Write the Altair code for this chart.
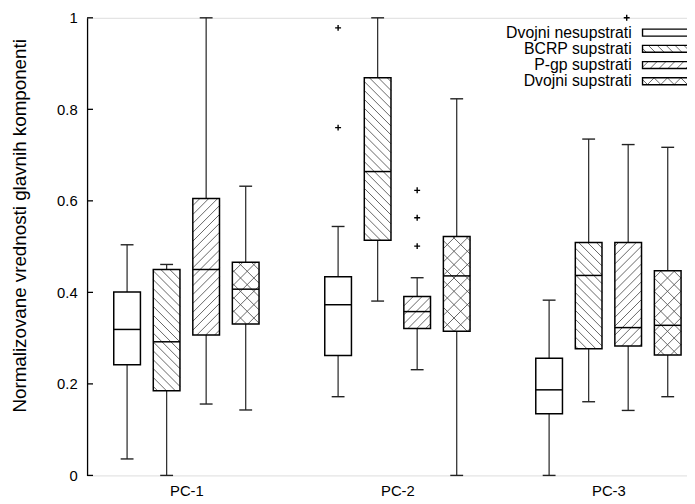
import altair as alt
import pandas as pd
import numpy as np

groups = ["PC-1", "PC-2", "PC-3"]
series = ["Dvojni nesupstrati", "BCRP supstrati", "P-gp supstrati", "Dvojni supstrati"]
patterns = ["none", "back", "fwd", "cross"]

# statistics, [group][series]
w_low = [[0.036, 0.000, 0.156, 0.143],
         [0.172, 0.381, 0.231, 0.000],
         [0.000, 0.161, 0.142, 0.172]]
q1 = [[0.242, 0.185, 0.307, 0.331],
      [0.262, 0.514, 0.321, 0.315],
      [0.135, 0.277, 0.283, 0.263]]
med = [[0.319, 0.292, 0.450, 0.407],
       [0.373, 0.664, 0.358, 0.436],
       [0.187, 0.437, 0.323, 0.328]]
q3 = [[0.401, 0.450, 0.605, 0.466],
      [0.434, 0.869, 0.391, 0.522],
      [0.256, 0.509, 0.509, 0.447]]
w_high = [[0.504, 0.461, 1.000, 0.632],
          [0.544, 1.000, 0.432, 0.823],
          [0.383, 0.735, 0.723, 0.717]]

out_group = [1, 1, 1, 1, 1]
out_series = [0, 0, 2, 2, 2]
out_value = [0.978, 0.760, 0.623, 0.563, 0.501]

y_ticks = [0, 0.2, 0.4, 0.6, 0.8, 1.0]
y_title = "Normalizovane vrednosti glavnih komponenti"

# ---- layout helpers (pixels -> data units) ----
W, H = 607, 463
KX = 213.5
XMIN = -0.4707
XMAX = XMIN + W / KX
OFF = 40 / KX
HALF = 13.5 / KX
CAP = 6.5 / KX


def px_x(p):
    return XMIN + p / KX


def px_y(p):
    return 1 - p / H


def hatch(x0, x1, y0, y1, kind, step):
    """segments in pixel space (y downward) clipped to rect"""
    segs = []
    kinds = ["fwd", "back"] if kind == "cross" else [kind]
    for k in kinds:
        if k == "fwd":  # y = c - x
            cmin, cmax = x0 + y0, x1 + y1
            c = np.ceil(cmin / step) * step
            while c < cmax:
                xa = max(x0, c - y1)
                xb = min(x1, c - y0)
                if xb - xa > 0.4:
                    segs.append((xa, c - xa, xb, c - xb))
                c += step
        elif k == "back":  # y = x + c
            cmin, cmax = y0 - x1, y1 - x0
            c = np.ceil(cmin / step) * step
            while c < cmax:
                xa = max(x0, y0 - c)
                xb = min(x1, y1 - c)
                if xb - xa > 0.4:
                    segs.append((xa, xa + c, xb, xb + c))
                c += step
    return segs


STEPS = {"back": 9.0, "fwd": 9.0, "cross": 13.5}

rows = []
hrows = []
for g in range(3):
    for s in range(4):
        xc = g + (s - 1.5) * OFF
        rows.append(dict(g=g, s=s, xc=xc, xl=xc - HALF, xr=xc + HALF,
                         cl=xc - CAP, cr=xc + CAP, lo=w_low[g][s], q1=q1[g][s],
                         med=med[g][s], q3=q3[g][s], hi=w_high[g][s]))
        kind = patterns[s]
        if kind != "none":
            X0 = (xc - HALF - XMIN) * KX
            X1 = (xc + HALF - XMIN) * KX
            Y0 = (1 - q3[g][s]) * H
            Y1 = (1 - q1[g][s]) * H
            for a, b, c, d in hatch(X0, X1, Y0, Y1, kind, STEPS[kind]):
                hrows.append(dict(x=px_x(a), y=px_y(b), x2=px_x(c), y2=px_y(d)))

box = pd.DataFrame(rows)
hat = pd.DataFrame(hrows)
outl = pd.DataFrame(dict(x=[g + (s - 1.5) * OFF for g, s in zip(out_group, out_series)],
                         v=out_value))

# legend (pixel positions relative to plot origin)
LEG_TX = 551
LEG_Y0 = 15
LEG_DY = 16.4
LEG_BX0, LEG_BX1 = 562, 640
LEG_BH = 3.5
lrows, lhat = [], []
for i, name in enumerate(series):
    yc = LEG_Y0 + LEG_DY * i
    lrows.append(dict(tx=px_x(LEG_TX), ty=px_y(yc), label=name,
                      bx0=px_x(LEG_BX0), bx1=px_x(LEG_BX1),
                      by0=px_y(yc - LEG_BH), by1=px_y(yc + LEG_BH)))
    kind = patterns[i]
    if kind != "none":
        for a, b, c, d in hatch(LEG_BX0, LEG_BX1, yc - LEG_BH, yc + LEG_BH, kind, STEPS[kind]):
            lhat.append(dict(x=px_x(a), y=px_y(b), x2=px_x(c), y2=px_y(d)))
leg = pd.DataFrame(lrows)
leghat = pd.DataFrame(lhat)
legplus = pd.DataFrame(dict(x=[px_x(546)], v=[px_y(0)]))

xs = alt.Scale(domain=[XMIN, XMAX], nice=False, zero=False)
ys = alt.Scale(domain=[0, 1], nice=False, zero=False)
FONT = "Liberation Sans"

AX = alt.Axis(values=[0, 1, 2], labelExpr="'PC-' + (datum.value + 1)",
              title=None, domain=False, ticks=False, grid=False,
              labelFontSize=15, labelFont=FONT, labelColor="black",
              labelPadding=8, labelFlush=False, labelOverlap=False)
AY = alt.Axis(values=y_ticks, format="~g", title=y_title,
              domain=True, domainColor="black", domainWidth=1.3, ticks=False, grid=False,
              labelFontSize=15, labelFont=FONT, labelColor="black", labelPadding=10,
              labelFontWeight="normal",
              titleFontSize=19, titleFont=FONT, titleFontWeight="normal", titleColor="black",
              titleX=-68, titleY=210, titleAngle=270, titleAlign="center",
              titleBaseline="middle")


def X(f):
    return alt.X(f, type="quantitative", scale=xs, axis=AX)


def Y(f):
    return alt.Y(f, type="quantitative", scale=ys, axis=AY)


base = alt.Chart(box)
wlow = base.mark_rule(color="#333", strokeWidth=1.3).encode(x=X("xc"), y=Y("lo"), y2="q1")
whigh = base.mark_rule(color="#333", strokeWidth=1.3).encode(x=X("xc"), y=Y("q3"), y2="hi")
caplo = base.mark_rule(color="#222", strokeWidth=1.4).encode(x=X("cl"), x2="cr", y=Y("lo"))
caphi = base.mark_rule(color="#222", strokeWidth=1.4).encode(x=X("cl"), x2="cr", y=Y("hi"))
fill = base.mark_rect(fill="white", stroke=None).encode(x=X("xl"), x2="xr", y=Y("q1"), y2="q3")
hatches = alt.Chart(hat).mark_rule(color="#555", strokeWidth=0.9).encode(
    x=X("x"), y=Y("y"), x2="x2", y2="y2")
outline = base.mark_rect(fillOpacity=0, stroke="black", strokeWidth=1.5).encode(
    x=X("xl"), x2="xr", y=Y("q1"), y2="q3")
median = base.mark_rule(color="black", strokeWidth=1.5).encode(x=X("xl"), x2="xr", y=Y("med"))
PLUS = "M-1,0L1,0M0,-1L0,1"
outpts = alt.Chart(outl).mark_point(shape=PLUS, filled=False, color="black", strokeWidth=1.4,
                                    size=36, opacity=1).encode(x=X("x"), y=Y("v"))
yt = alt.Chart(pd.DataFrame(dict(v=y_ticks))).mark_rule(color="black", strokeWidth=1.3).encode(
    y=Y("v"), x=alt.value(0), x2=alt.value(6))

legtext = alt.Chart(leg).mark_text(align="right", baseline="middle", fontSize=16, font=FONT,
                                   color="black").encode(x=X("tx"), y=Y("ty"), text="label")
legfill = alt.Chart(leg).mark_rect(fill="white", stroke=None).encode(
    x=X("bx0"), x2="bx1", y=Y("by0"), y2="by1")
leghatch = alt.Chart(leghat).mark_rule(color="#555", strokeWidth=0.9).encode(
    x=X("x"), y=Y("y"), x2="x2", y2="y2")
legbox = alt.Chart(leg).mark_rect(fillOpacity=0, stroke="black", strokeWidth=1.4).encode(
    x=X("bx0"), x2="bx1", y=Y("by0"), y2="by1")
legp = alt.Chart(legplus).mark_point(shape=PLUS, filled=False, color="black", strokeWidth=1.4,
                                     size=36, opacity=1).encode(x=X("x"), y=Y("v"))

chart = alt.layer(
    wlow, whigh, caplo, caphi, fill, hatches, outline, median, outpts, yt,
    legtext, legfill, leghatch, legbox, legp,
).properties(
    width=W, height=H,
    padding={"left": 80, "top": 7, "right": 0, "bottom": 26},
    autosize=alt.AutoSizeParams(type="none"),
).configure_view(stroke=None).configure(font=FONT)

chart.save("out.html", embed_options={"renderer": "svg", "actions": False})
